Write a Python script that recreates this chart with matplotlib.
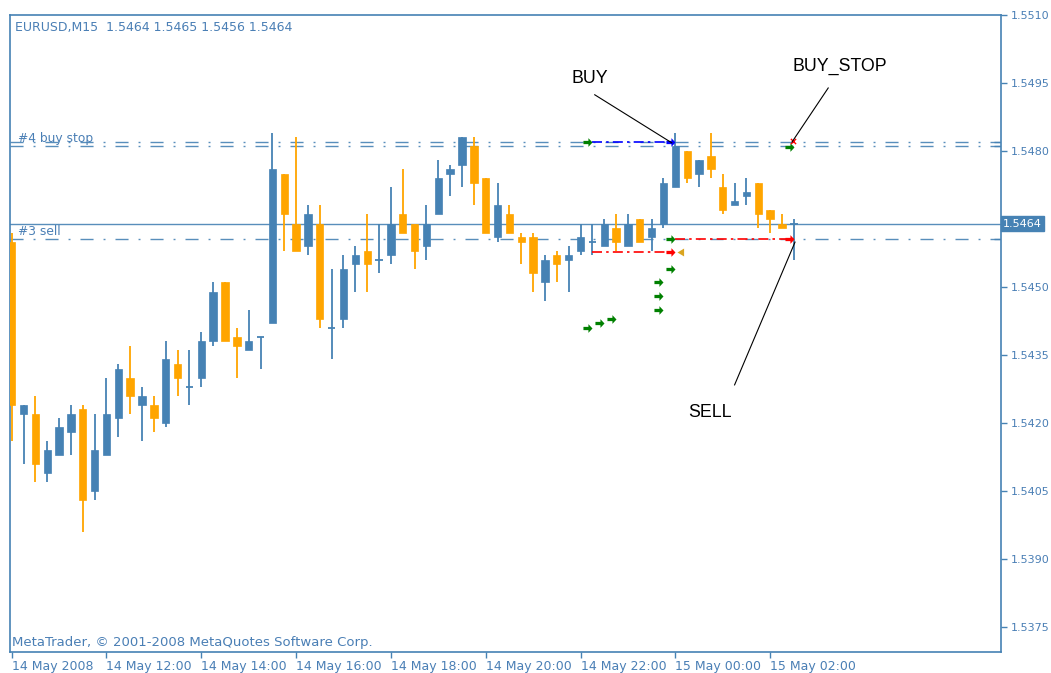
import numpy as np
import matplotlib.pyplot as plt
from matplotlib.path import Path
import matplotlib.transforms as mtransforms

plt.rcParams['font.family'] = ['DejaVu Sans']

# --- chart data (EURUSD M15, 14 May 2008 10:00 onwards) ---
symbol_info = 'EURUSD,M15  1.5464 1.5465 1.5456 1.5464'
copyright_txt = 'MetaTrader, \u00a9 2001-2008 MetaQuotes Software Corp.'

opens = [1.5460, 1.5422, 1.5422, 1.5409, 1.5413, 1.5418, 1.5423, 1.5405, 1.5413, 1.5421,
         1.5430, 1.5424, 1.5424, 1.5420, 1.5433, 1.5428, 1.5430, 1.5438, 1.5451, 1.5439,
         1.5436, 1.5439, 1.5442, 1.5475, 1.5464, 1.5459, 1.5464, 1.5441, 1.5443, 1.5455,
         1.5458, 1.5456, 1.5457, 1.5466, 1.5464, 1.5459, 1.5466, 1.5475, 1.5477, 1.5481,
         1.5474, 1.5461, 1.5466, 1.5461, 1.5461, 1.5451, 1.5457, 1.5456, 1.5458, 1.5460,
         1.5459, 1.5463, 1.5459, 1.5465, 1.5461, 1.5464, 1.5472, 1.5480, 1.5475, 1.5479,
         1.5472, 1.5468, 1.5470, 1.5473, 1.5467, 1.5464, 1.5464]
highs = [1.5462, 1.5424, 1.5426, 1.5416, 1.5421, 1.5424, 1.5424, 1.5422, 1.5430, 1.5433,
         1.5437, 1.5428, 1.5426, 1.5438, 1.5436, 1.5436, 1.5440, 1.5451, 1.5451, 1.5441,
         1.5445, 1.5439, 1.5484, 1.5475, 1.5483, 1.5468, 1.5468, 1.5454, 1.5457, 1.5459,
         1.5466, 1.5464, 1.5472, 1.5476, 1.5464, 1.5468, 1.5478, 1.5477, 1.5483, 1.5483,
         1.5474, 1.5473, 1.5468, 1.5462, 1.5462, 1.5457, 1.5458, 1.5459, 1.5464, 1.5464,
         1.5465, 1.5466, 1.5466, 1.5465, 1.5465, 1.5474, 1.5484, 1.5480, 1.5478, 1.5484,
         1.5475, 1.5473, 1.5474, 1.5473, 1.5467, 1.5466, 1.5465]
lows = [1.5416, 1.5411, 1.5407, 1.5407, 1.5413, 1.5413, 1.5396, 1.5403, 1.5413, 1.5417,
        1.5422, 1.5416, 1.5418, 1.5419, 1.5426, 1.5424, 1.5428, 1.5437, 1.5438, 1.5430,
        1.5436, 1.5432, 1.5442, 1.5458, 1.5458, 1.5457, 1.5441, 1.5434, 1.5441, 1.5449,
        1.5449, 1.5453, 1.5455, 1.5462, 1.5454, 1.5456, 1.5466, 1.5470, 1.5472, 1.5468,
        1.5462, 1.5460, 1.5462, 1.5455, 1.5449, 1.5447, 1.5451, 1.5449, 1.5457, 1.5457,
        1.5459, 1.5458, 1.5459, 1.5460, 1.5458, 1.5463, 1.5472, 1.5473, 1.5472, 1.5474,
        1.5466, 1.5468, 1.5468, 1.5463, 1.5462, 1.5463, 1.5456]
closes = [1.5424, 1.5424, 1.5411, 1.5414, 1.5419, 1.5422, 1.5403, 1.5414, 1.5422, 1.5432,
          1.5426, 1.5426, 1.5421, 1.5434, 1.5430, 1.5428, 1.5438, 1.5449, 1.5438, 1.5437,
          1.5438, 1.5439, 1.5476, 1.5466, 1.5458, 1.5466, 1.5443, 1.5441, 1.5454, 1.5457,
          1.5455, 1.5456, 1.5464, 1.5462, 1.5458, 1.5464, 1.5474, 1.5476, 1.5483, 1.5473,
          1.5462, 1.5468, 1.5462, 1.5460, 1.5453, 1.5456, 1.5455, 1.5457, 1.5461, 1.5460,
          1.5464, 1.5460, 1.5464, 1.5460, 1.5463, 1.5473, 1.5481, 1.5474, 1.5478, 1.5476,
          1.5467, 1.5469, 1.5471, 1.5466, 1.5465, 1.5463, 1.5464]

time_tick_bars = [0, 8, 16, 24, 32, 40, 48, 56, 64]
time_tick_labels = ['14 May 2008', '14 May 12:00', '14 May 14:00', '14 May 16:00',
                    '14 May 18:00', '14 May 20:00', '14 May 22:00', '15 May 00:00',
                    '15 May 02:00']
price_ticks = [1.5375, 1.5390, 1.5405, 1.5420, 1.5435, 1.5450, 1.5480, 1.5495, 1.5510]

bid_price = 1.5464
buy_stop_levels = [1.5482, 1.5481]
sell_level = 1.54605

# trades: (bar_open, bar_close, price, colour)
trade_bars_from = [49, 49, 56]
trade_bars_to = [56, 56, 66]
trade_prices = [1.5482, 1.54577, 1.54605]
trade_colors = ['#0000ff', '#ff0000', '#ff0000']

green_bars = [49, 50, 51, 55, 55, 55, 56, 56, 49, 66]
green_prices = [1.5441, 1.5442, 1.5443, 1.5445, 1.5448, 1.5451, 1.5454, 1.54605, 1.5482, 1.54808]
red_bars = [56, 66]
red_prices = [1.54577, 1.54605]
blue_bars = [56]
blue_prices = [1.5482]

# text annotations: label, text pos (bar, price), line start, line end
ann_labels = ['BUY', 'BUY_STOP', 'SELL']
ann_text_pos = [(48.8, 1.54961), (69.9, 1.54987), (58.9, 1.54224)]
ann_line_from = [(49.2, 1.54924), (68.9, 1.54939), (61.0, 1.54284)]
ann_line_to = [(55.7, 1.54818), (65.85, 1.54820), (66.1, 1.54599)]

# --- styling ---
BLUE = '#4682b4'
ORANGE = '#ffa500'
TXT = '#4a7fb5'

fig = plt.figure(figsize=(10.51, 6.73), dpi=100)
ax = fig.add_axes([10 / 1051, 21 / 673, 991 / 1051, 637 / 673])

x = np.arange(len(opens))
o = np.array(opens)
h = np.array(highs)
l = np.array(lows)
c = np.array(closes)
up = c >= o
cols = np.where(up, BLUE, ORANGE)

# candles
ax.vlines(x, l, h, colors=cols, lw=1.3, zorder=3)
body_lo = np.minimum(o, c)
body_h = np.abs(c - o)
has_body = body_h > 1e-6
ax.bar(x[has_body], body_h[has_body], bottom=body_lo[has_body], width=0.62,
       color=cols[has_body], edgecolor=cols[has_body], lw=0.5, zorder=3)
ax.hlines(o[~has_body], x[~has_body] - 0.31, x[~has_body] + 0.31,
          colors=cols[~has_body], lw=1.3, zorder=3)

# order level lines
dash_dot = (0, (9.4, 7.2, 1.4, 7.2))
for lvl in buy_stop_levels:
    ax.axhline(lvl, color=BLUE, lw=1, ls=dash_dot, zorder=2, alpha=0.9)
ax.axhline(sell_level, color=BLUE, lw=1, ls=dash_dot, zorder=2, alpha=0.9)
ax.axhline(bid_price, color=BLUE, lw=1, zorder=2, alpha=0.9)

ytrans = mtransforms.blended_transform_factory(ax.transAxes, ax.transData)
ax.text(0.008, buy_stop_levels[1] + 0.00003, '#4 buy stop', color=TXT, fontsize=8.8,
        va='bottom', ha='left', transform=ytrans)
ax.text(0.008, sell_level + 0.00004, '#3 sell', color=TXT, fontsize=8.8,
        va='bottom', ha='left', transform=ytrans)
for lvl in buy_stop_levels + [sell_level]:
    ax.plot([0.9955], [lvl], marker='_', ms=4, color=BLUE, transform=ytrans, clip_on=False)

# trade lines
for b0, b1, p, col in zip(trade_bars_from, trade_bars_to, trade_prices, trade_colors):
    ax.plot([b0, b1], [p, p], color=col, lw=1.2, ls=(0, (6, 2.5, 1.5, 2.5)), zorder=4)

# arrow markers (tip at the anchor point)
arrow_r = Path([(-1, -0.18), (-0.45, -0.18), (-0.45, -0.48), (0, 0), (-0.45, 0.48),
                (-0.45, 0.18), (-1, 0.18), (-1, -0.18)], closed=True)
tri_l = Path([(0, 0), (1, -0.6), (1, 0.6), (0, 0)], closed=True)
ax.scatter(green_bars, green_prices, marker=arrow_r, s=170, color='#008000', zorder=5, lw=0)
ax.scatter(red_bars, red_prices, marker=arrow_r, s=170, color='#ff0000', zorder=5, lw=0)
ax.scatter(blue_bars, blue_prices, marker=arrow_r, s=170, color='#0000ff', zorder=5, lw=0)
ax.scatter([56.1], [1.54577], marker=tri_l, s=90, color='#daa520', zorder=5, lw=0)
ax.scatter([65.9], [1.54822], marker='x', s=14, color='#ff0000', zorder=5, lw=1)

# annotations
for lab, tp, lf, lt in zip(ann_labels, ann_text_pos, ann_line_from, ann_line_to):
    ax.text(tp[0], tp[1], lab, family='Liberation Sans', fontsize=12.8, color='black',
            ha='center', va='center', zorder=6)
    ax.plot([lf[0], lt[0]], [lf[1], lt[1]], color='black', lw=0.8, zorder=6)

# header and footer texts
ax.text(0.005, 0.981, symbol_info, color=TXT, fontsize=9, va='center', ha='left',
        transform=ax.transAxes)
ax.text(0.002, 0.004, copyright_txt, color=TXT, fontsize=9.5, va='bottom', ha='left',
        transform=ax.transAxes)

# bid price box
ax.text(1.002, bid_price, '1.5464', color='white', fontsize=8, va='center', ha='left',
        transform=ytrans, bbox=dict(boxstyle='square,pad=0.22', fc=BLUE, ec=BLUE),
        clip_on=False)

# axes
ax.set_xlim(-0.14, 83.48)
ax.set_ylim(1.536947, 1.5510)
for s in ax.spines.values():
    s.set_color(BLUE)
    s.set_linewidth(1.2)
ax.yaxis.tick_right()
ax.set_yticks(price_ticks)
ax.set_yticklabels([f'{p:.4f}' for p in price_ticks])
ax.set_xticks(time_tick_bars)
ax.set_xticklabels(time_tick_labels, ha='left')
ax.tick_params(axis='both', colors=BLUE, labelcolor=TXT, length=4,
               width=1, direction='out')
ax.tick_params(axis='x', pad=2, labelsize=9)
ax.tick_params(axis='y', pad=3, labelsize=8)

fig.savefig('out.png', dpi=100)
